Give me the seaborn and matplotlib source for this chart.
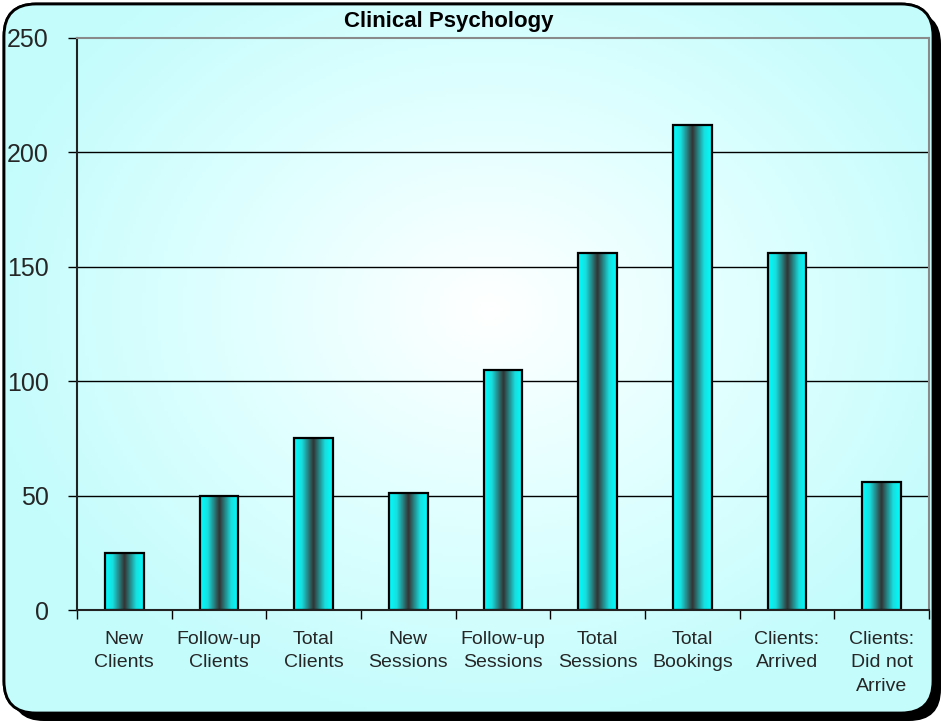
import matplotlib
matplotlib.use("Agg")
import matplotlib.pyplot as plt
import numpy as np
import seaborn as sns
from matplotlib.colors import LinearSegmentedColormap
from matplotlib.patches import FancyBboxPatch

categories = ["New\nClients", "Follow-up\nClients", "Total\nClients", "New\nSessions",
              "Follow-up\nSessions", "Total\nSessions", "Total\nBookings",
              "Clients:\nArrived", "Clients:\nDid not\nArrive"]
values = [25, 50, 75, 51, 105, 156, 212, 156, 56]
y_ticks = [0, 50, 100, 150, 200, 250]
title = "Clinical Psychology"

sns.set_style("white")
plt.rcParams["font.family"] = ["Liberation Sans", "DejaVu Sans"]

W, H = 949, 725
fig = plt.figure(figsize=(W / 100, H / 100), dpi=100)
fig.patch.set_facecolor("white")

# background panel with shadow and radial gradient
bg = fig.add_axes([0, 0, 1, 1])
bg.set_xlim(0, W)
bg.set_ylim(H, 0)
bg.axis("off")
shadow = FancyBboxPatch((12, 12), 929, 709, boxstyle="round,pad=0,rounding_size=32",
                        fc="black", ec="none", zorder=1)
bg.add_patch(shadow)
panel = FancyBboxPatch((4, 4), 929, 709, boxstyle="round,pad=0,rounding_size=32",
                       fc="#c8ffff", ec="black", lw=2, zorder=2)
bg.add_patch(panel)
gx, gy = np.meshgrid(np.linspace(0, W, 300), np.linspace(0, H, 240))
r = np.sqrt(((gx - 490) / 520) ** 2 + ((gy - 310) / 420) ** 2)
r = np.clip(r, 0, 1)
bg_cmap = LinearSegmentedColormap.from_list("bg", ["#ffffff", "#e0ffff", "#c4fcfc"])
im = bg.imshow(r, cmap=bg_cmap, extent=[0, W, H, 0], aspect="auto", zorder=3)
im.set_clip_path(panel)
border = FancyBboxPatch((4, 4), 929, 709, boxstyle="round,pad=0,rounding_size=32",
                        fc="none", ec="black", lw=2, zorder=4)
bg.add_patch(border)

# main axes
ax = fig.add_axes([77 / W, (H - 610) / H, 852 / W, 572 / H])
ax.patch.set_alpha(0)
sns.barplot(x=list(range(len(values))), y=values, color="cyan", edgecolor="black",
            linewidth=1.6, width=0.41, ax=ax, zorder=3)

bar_cmap = LinearSegmentedColormap.from_list(
    "bar", [(0, "#00ffff"), (0.2, "#18dede"), (0.5, "#333333"),
            (0.8, "#18dede"), (1, "#00ffff")])
grad = np.linspace(0, 1, 256).reshape(1, -1)
for p in ax.patches:
    x0, y0 = p.get_x(), p.get_y()
    w, h = p.get_width(), p.get_height()
    gi = ax.imshow(grad, cmap=bar_cmap, extent=[x0, x0 + w, y0, y0 + h],
                   aspect="auto", zorder=3.5)
    gi.set_clip_path(p)
    p.set_facecolor("none")
    p.set_zorder(4)

ax.set_xlim(-0.5, len(values) - 0.5)
ax.set_ylim(0, 250)
ax.set_yticks(y_ticks)
ax.set_yticklabels([str(t) for t in y_ticks], fontsize=18)
ax.set_xticks(range(len(categories)))
ax.set_xticklabels(categories, fontsize=14, linespacing=1.5)
ax.set_xticks(np.arange(-0.5, len(values), 1), minor=True)
ax.tick_params(axis="x", which="major", bottom=False, length=0, pad=15)
ax.tick_params(axis="x", which="minor", bottom=True, length=6.5, width=1,
               color="black", direction="out")
ax.tick_params(axis="y", left=True, length=6.5, width=1, color="black",
               direction="out", pad=14)

for yv in y_ticks[1:-1]:
    ax.axhline(yv, color="black", lw=1, zorder=1)
ax.spines["left"].set_color("#222222")
ax.spines["bottom"].set_color("#222222")
ax.spines["top"].set_color("#8a8a8a")
ax.spines["right"].set_color("#8a8a8a")
for s in ax.spines.values():
    s.set_linewidth(1.5)
    s.set_zorder(5)
ax.set_xlabel("")
ax.set_ylabel("")

fig.text(449 / W, 1 - 22 / H, title, ha="center", va="center", fontsize=16,
         fontweight="bold", color="black")

fig.savefig("out.png", dpi=100)
